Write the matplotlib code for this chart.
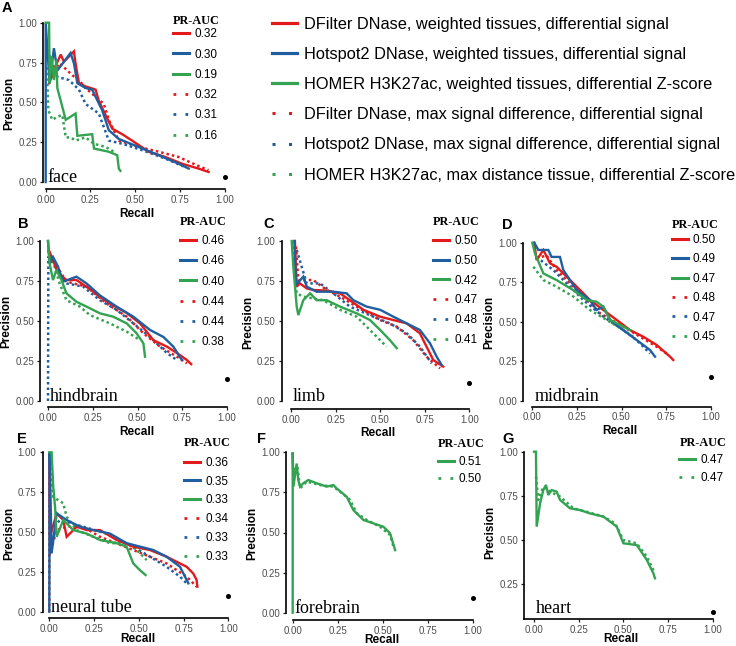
import matplotlib
matplotlib.use("Agg")
import matplotlib.pyplot as plt
from matplotlib.lines import Line2D

plt.rcParams['font.family'] = ['Liberation Sans', 'DejaVu Sans']

RED = '#E3191C'
BLUE = '#1F5FA0'
GREEN = '#33A352'

method_labels = [
    'DFilter DNase, weighted tissues, differential signal',
    'Hotspot2 DNase, weighted tissues, differential signal',
    'HOMER H3K27ac, weighted tissues, differential Z-score',
    'DFilter DNase, max signal difference, differential signal',
    'Hotspot2 DNase, max signal difference, differential signal',
    'HOMER H3K27ac, max distance tissue, differential Z-score',
]
tissues = ['face', 'hindbrain', 'limb', 'midbrain', 'neural tube', 'forebrain', 'heart']
panel_letters = ['A', 'B', 'C', 'D', 'E', 'F', 'G']

# PR-AUC values shown in each panel legend
face_auc = [0.32, 0.30, 0.19, 0.32, 0.31, 0.16]
hindbrain_auc = [0.46, 0.46, 0.40, 0.44, 0.44, 0.38]
limb_auc = [0.50, 0.50, 0.42, 0.47, 0.48, 0.41]
midbrain_auc = [0.50, 0.49, 0.47, 0.48, 0.47, 0.45]
neural_tube_auc = [0.36, 0.35, 0.33, 0.34, 0.33, 0.33]
forebrain_auc = [0.51, 0.50]
heart_auc = [0.47, 0.47]

# fraction of positives (black dot at recall = 1)
baselines = [0.031, 0.135, 0.112, 0.15, 0.098, 0.094, 0.095]

# (recall, precision) points
face_dfilter_wt = [(0.019, 0.62), (0.056, 0.73), (0.084, 0.80), (0.102, 0.755), (0.158, 0.82),
                   (0.167, 0.745), (0.186, 0.62), (0.223, 0.60), (0.279, 0.58), (0.297, 0.51),
                   (0.335, 0.42), (0.372, 0.335), (0.428, 0.30), (0.483, 0.26), (0.576, 0.19),
                   (0.669, 0.157), (0.762, 0.115), (0.855, 0.084), (0.911, 0.063)]
face_hotspot_wt = [(0.0, 0.0), (0.0, 1.0), (0.022, 0.62), (0.046, 0.84), (0.065, 0.70), (0.139, 0.81),
                   (0.158, 0.745), (0.177, 0.62), (0.223, 0.59), (0.26, 0.58), (0.279, 0.535),
                   (0.316, 0.45), (0.353, 0.325), (0.409, 0.27), (0.52, 0.22), (0.632, 0.168),
                   (0.743, 0.115), (0.80, 0.084)]
face_homer_wt = [(0.0, 1.0), (0.019, 1.0), (0.022, 0.62), (0.032, 0.79), (0.046, 0.64), (0.06, 0.765),
                 (0.065, 0.59), (0.084, 0.51), (0.112, 0.39), (0.167, 0.43), (0.177, 0.29),
                 (0.26, 0.30), (0.27, 0.21), (0.353, 0.19), (0.40, 0.168), (0.409, 0.084), (0.418, 0.07)]
face_dfilter_max = [(0.009, 0.83), (0.037, 0.66), (0.074, 0.745), (0.112, 0.71), (0.149, 0.67),
                    (0.186, 0.64), (0.223, 0.59), (0.279, 0.535), (0.325, 0.49), (0.353, 0.39),
                    (0.409, 0.26), (0.52, 0.22), (0.632, 0.19), (0.743, 0.157), (0.855, 0.10), (0.91, 0.075)]
face_hotspot_max = [(0.009, 0.83), (0.065, 0.66), (0.13, 0.64), (0.186, 0.58), (0.223, 0.49),
                    (0.297, 0.43), (0.353, 0.26), (0.428, 0.24), (0.539, 0.20), (0.669, 0.147), (0.78, 0.094)]
face_homer_max = [(0.006, 0.72), (0.015, 0.45), (0.037, 0.39), (0.065, 0.41), (0.093, 0.42),
                  (0.112, 0.28), (0.139, 0.28), (0.167, 0.26), (0.223, 0.28), (0.27, 0.24),
                  (0.335, 0.22), (0.381, 0.19)]

hindbrain_dfilter_wt = [(0.006, 0.94), (0.028, 0.88), (0.056, 0.80), (0.103, 0.756), (0.159, 0.756),
                        (0.234, 0.70), (0.29, 0.65), (0.346, 0.61), (0.44, 0.55), (0.514, 0.485),
                        (0.589, 0.38), (0.664, 0.34), (0.72, 0.30), (0.776, 0.256), (0.80, 0.23)]
hindbrain_hotspot_wt = [(0.0, 1.0), (0.009, 0.86), (0.028, 0.90), (0.056, 0.84), (0.084, 0.746),
                        (0.159, 0.777), (0.215, 0.735), (0.29, 0.66), (0.383, 0.59), (0.477, 0.527),
                        (0.57, 0.444), (0.645, 0.40), (0.70, 0.34), (0.748, 0.256)]
hindbrain_homer_wt = [(0.0, 1.0), (0.009, 0.86), (0.028, 0.756), (0.047, 0.82), (0.075, 0.756),
                      (0.103, 0.673), (0.159, 0.62), (0.215, 0.59), (0.29, 0.548), (0.364, 0.527),
                      (0.44, 0.485), (0.495, 0.423), (0.533, 0.36), (0.542, 0.277)]
hindbrain_dfilter_max = [(0.009, 0.90), (0.028, 0.88), (0.103, 0.746), (0.215, 0.715), (0.327, 0.61),
                         (0.44, 0.527), (0.533, 0.423), (0.626, 0.34), (0.72, 0.277), (0.776, 0.235)]
hindbrain_hotspot_max = [(0.0, 0.0), (0.002, 0.90), (0.028, 0.86), (0.103, 0.735), (0.196, 0.715),
                         (0.29, 0.63), (0.383, 0.57), (0.477, 0.485), (0.57, 0.40), (0.664, 0.30), (0.72, 0.256)]
hindbrain_homer_max = [(0.0, 0.94), (0.037, 0.84), (0.065, 0.735), (0.103, 0.63), (0.178, 0.59),
                       (0.234, 0.537), (0.346, 0.485), (0.44, 0.433), (0.514, 0.38)]

limb_dfilter_wt = [(0.022, 1.0), (0.032, 0.715), (0.05, 0.735), (0.088, 0.704), (0.125, 0.694),
                   (0.2, 0.69), (0.275, 0.673), (0.33, 0.63), (0.406, 0.57), (0.5, 0.527),
                   (0.574, 0.506), (0.649, 0.485), (0.723, 0.423), (0.76, 0.34), (0.798, 0.256), (0.854, 0.215)]
limb_hotspot_wt = [(0.019, 1.0), (0.028, 0.725), (0.069, 0.777), (0.088, 0.715), (0.144, 0.683),
                   (0.237, 0.683), (0.312, 0.673), (0.35, 0.63), (0.424, 0.59), (0.5, 0.57),
                   (0.574, 0.527), (0.649, 0.485), (0.723, 0.444), (0.78, 0.36), (0.817, 0.277), (0.845, 0.225)]
limb_homer_wt = [(0.004, 1.0), (0.013, 0.84), (0.032, 0.59), (0.041, 0.537), (0.069, 0.63),
                 (0.107, 0.673), (0.144, 0.63), (0.2, 0.63), (0.275, 0.59), (0.368, 0.548),
                 (0.443, 0.506), (0.5, 0.444), (0.555, 0.38), (0.593, 0.33)]
limb_dfilter_max = [(0.028, 0.965), (0.041, 0.756), (0.125, 0.756), (0.2, 0.694), (0.275, 0.652),
                    (0.368, 0.59), (0.5, 0.506), (0.593, 0.465), (0.686, 0.38), (0.76, 0.277), (0.836, 0.204)]
limb_hotspot_max = [(0.032, 0.944), (0.088, 0.735), (0.163, 0.735), (0.237, 0.673), (0.33, 0.59),
                    (0.462, 0.527), (0.555, 0.485), (0.649, 0.423), (0.723, 0.34), (0.789, 0.235)]
limb_homer_max = [(0.007, 1.0), (0.017, 0.84), (0.032, 0.673), (0.069, 0.652), (0.181, 0.63),
                  (0.275, 0.57), (0.368, 0.527), (0.424, 0.465), (0.5, 0.38), (0.536, 0.34)]

midbrain_dfilter_wt = [(0.011, 1.0), (0.024, 0.89), (0.062, 0.954), (0.099, 0.87), (0.136, 0.848),
                       (0.174, 0.806), (0.249, 0.722), (0.323, 0.638), (0.398, 0.575), (0.473, 0.512),
                       (0.548, 0.448), (0.622, 0.406), (0.697, 0.354), (0.772, 0.28), (0.79, 0.259)]
midbrain_hotspot_wt = [(0.011, 1.0), (0.034, 0.954), (0.09, 0.954), (0.108, 0.91), (0.155, 0.91),
                       (0.174, 0.827), (0.249, 0.70), (0.323, 0.638), (0.36, 0.575), (0.398, 0.596),
                       (0.436, 0.512), (0.51, 0.448), (0.585, 0.385), (0.66, 0.322), (0.688, 0.28)]
midbrain_homer_wt = [(0.0, 1.0), (0.015, 0.933), (0.062, 0.806), (0.136, 0.764), (0.23, 0.70),
                     (0.305, 0.638), (0.36, 0.627), (0.398, 0.596), (0.436, 0.512), (0.51, 0.47), (0.548, 0.448)]
midbrain_dfilter_max = [(0.024, 0.90), (0.08, 0.92), (0.136, 0.827), (0.211, 0.743), (0.286, 0.66),
                        (0.38, 0.554), (0.51, 0.47), (0.604, 0.406), (0.697, 0.343), (0.753, 0.30)]
midbrain_hotspot_max = [(0.024, 0.91), (0.118, 0.827), (0.193, 0.743), (0.286, 0.638), (0.398, 0.533),
                        (0.51, 0.448), (0.585, 0.385), (0.66, 0.30)]
midbrain_homer_max = [(0.006, 0.848), (0.062, 0.764), (0.136, 0.722), (0.23, 0.66), (0.323, 0.575),
                      (0.417, 0.512), (0.51, 0.448), (0.566, 0.406)]

neural_tube_dfilter_wt = [(0.002, 0.95), (0.004, 0.47), (0.041, 0.617), (0.078, 0.575), (0.097, 0.47),
                          (0.153, 0.533), (0.209, 0.512), (0.283, 0.512), (0.376, 0.45), (0.469, 0.408),
                          (0.562, 0.387), (0.655, 0.345), (0.767, 0.282), (0.804, 0.24), (0.823, 0.199), (0.827, 0.157)]
neural_tube_hotspot_wt = [(0.0, 0.0), (0.002, 1.0), (0.013, 0.366), (0.041, 0.617), (0.097, 0.575),
                          (0.171, 0.533), (0.246, 0.512), (0.339, 0.49), (0.432, 0.43), (0.507, 0.408),
                          (0.581, 0.387), (0.655, 0.345), (0.73, 0.282), (0.777, 0.178)]
neural_tube_homer_wt = [(0.0, 1.0), (0.013, 1.0), (0.022, 0.785), (0.032, 0.66), (0.041, 0.47),
                        (0.078, 0.575), (0.134, 0.512), (0.209, 0.49), (0.283, 0.45), (0.376, 0.43),
                        (0.432, 0.408), (0.469, 0.303), (0.507, 0.26), (0.538, 0.23)]
neural_tube_dfilter_max = [(0.0, 0.0), (0.0, 1.0), (0.004, 0.366), (0.041, 0.512), (0.097, 0.533),
                           (0.19, 0.533), (0.283, 0.47), (0.469, 0.387), (0.655, 0.303), (0.767, 0.22), (0.823, 0.157)]
neural_tube_hotspot_max = [(0.004, 0.512), (0.06, 0.575), (0.19, 0.533), (0.32, 0.49), (0.469, 0.408),
                           (0.655, 0.282), (0.73, 0.22), (0.767, 0.178)]
neural_tube_homer_max = [(0.004, 0.973), (0.022, 0.72), (0.078, 0.68), (0.097, 0.596), (0.153, 0.512),
                         (0.246, 0.47), (0.339, 0.43), (0.432, 0.43), (0.488, 0.387), (0.544, 0.324)]

forebrain_homer_wt = [(0.0, 0.0), (0.0, 1.0), (0.004, 0.786), (0.022, 0.93), (0.031, 0.827),
                      (0.041, 0.786), (0.059, 0.807), (0.087, 0.827), (0.133, 0.807), (0.189, 0.786),
                      (0.226, 0.796), (0.244, 0.775), (0.30, 0.723), (0.337, 0.64), (0.393, 0.578),
                      (0.448, 0.557), (0.504, 0.536), (0.541, 0.495), (0.569, 0.39)]
forebrain_homer_max = [(0.004, 0.89), (0.026, 0.91), (0.041, 0.775), (0.078, 0.817), (0.152, 0.796),
                       (0.226, 0.786), (0.263, 0.755), (0.319, 0.703), (0.356, 0.62), (0.411, 0.578),
                       (0.485, 0.536), (0.541, 0.484), (0.563, 0.40)]

heart_homer_wt = [(0.0, 1.0), (0.011, 1.0), (0.015, 0.576), (0.034, 0.708), (0.052, 0.783),
                  (0.067, 0.812), (0.08, 0.755), (0.099, 0.783), (0.127, 0.774), (0.146, 0.727),
                  (0.201, 0.68), (0.257, 0.67), (0.313, 0.651), (0.388, 0.633), (0.463, 0.576),
                  (0.50, 0.482), (0.575, 0.472), (0.631, 0.388), (0.668, 0.312), (0.677, 0.284)]
heart_homer_max = [(0.011, 0.859), (0.024, 0.727), (0.052, 0.802), (0.09, 0.774), (0.146, 0.746),
                   (0.22, 0.68), (0.295, 0.66), (0.388, 0.633), (0.453, 0.595), (0.50, 0.50),
                   (0.575, 0.482), (0.631, 0.407), (0.672, 0.322)]

six = [(RED, '-'), (BLUE, '-'), (GREEN, '-'), (RED, ':'), (BLUE, ':'), (GREEN, ':')]
two = [(GREEN, '-'), (GREEN, ':')]

panels = [
    ([face_dfilter_wt, face_hotspot_wt, face_homer_wt, face_dfilter_max, face_hotspot_max, face_homer_max], face_auc, six),
    ([hindbrain_dfilter_wt, hindbrain_hotspot_wt, hindbrain_homer_wt, hindbrain_dfilter_max,
      hindbrain_hotspot_max, hindbrain_homer_max], hindbrain_auc, six),
    ([limb_dfilter_wt, limb_hotspot_wt, limb_homer_wt, limb_dfilter_max, limb_hotspot_max, limb_homer_max], limb_auc, six),
    ([midbrain_dfilter_wt, midbrain_hotspot_wt, midbrain_homer_wt, midbrain_dfilter_max,
      midbrain_hotspot_max, midbrain_homer_max], midbrain_auc, six),
    ([neural_tube_dfilter_wt, neural_tube_hotspot_wt, neural_tube_homer_wt, neural_tube_dfilter_max,
      neural_tube_hotspot_max, neural_tube_homer_max], neural_tube_auc, six),
    ([forebrain_homer_wt, forebrain_homer_max], forebrain_auc, two),
    ([heart_homer_wt, heart_homer_max], heart_auc, two),
]

# layout in pixels: x of recall 0 and 1, y of precision 0 and 1, left expansion, y lower limit
frames = [
    (45.7, 224.5, 182.0, 22.7, 0.013, -0.045),
    (48.0, 227.0, 401.0, 241.0, 0.042, -0.04),
    (291.0, 469.3, 401.0, 241.0, 0.052, -0.05),
    (532.3, 710.7, 401.0, 242.7, 0.05, -0.036),
    (49.3, 228.3, 611.7, 452.3, 0.037, -0.042),
    (292.7, 472.7, 612.7, 452.3, 0.035, -0.046),
    (534.0, 712.7, 628.5, 451.7, 0.054, 0.052),
]
letter_pos = [(2, 1), (18, 217), (263, 217), (502, 218), (17, 432), (257, 432), (502, 432)]
# legend: handle x, title centre y, first row centre y, row pitch (pixels)
legend_pos = [(173, 20.9, 33.3, 20.4), (180, 221.3, 240, 20.4), (433, 221.5, 240, 19.9),
              (671.7, 225, 239, 19.5), (184, 442.3, 461.7, 19.0), (437.7, 443.5, 460.7, 17.6),
              (679.3, 442.5, 459.3, 18.0)]
label_y = [0.0, 0.0, 0.0, 0.0, 0.0, 0.0, 0.085]

W, H = 736, 646
PT = 100 / 72.0
fig = plt.figure(figsize=(7.36, 6.46), dpi=100)

ticks = [0, 0.25, 0.5, 0.75, 1.0]
tick_labels = ['0.00', '0.25', '0.50', '0.75', '1.00']
LEG_FS = 8.5
ROW_H = 12.1  # text row height of legend entries at LEG_FS, pixels

for i, (curves, aucs, styles) in enumerate(panels):
    x0, x1, y0, y1, xlo, ylo = frames[i]
    ux = x1 - x0
    uy = y0 - y1
    xhi, yhi = 1.03, 1.03
    left = x0 - xlo * ux
    right = x0 + xhi * ux
    bottom = y0 - ylo * uy
    top = y0 - yhi * uy
    ax = fig.add_axes([left / W, 1 - bottom / H, (right - left) / W, (bottom - top) / H])
    ax.set_xlim(-xlo, xhi)
    ax.set_ylim(ylo, yhi)
    ax.patch.set_alpha(0)

    for pts, (c, ls) in zip(curves, styles):
        r = [p[0] for p in pts]
        pr = [p[1] for p in pts]
        if ls == '-':
            ax.plot(r, pr, color=c, lw=1.7, solid_joinstyle='miter', zorder=3)
        else:
            ax.plot(r, pr, color=c, lw=1.8, ls=(0, (1, 1.2)), zorder=2)
    ax.plot([1.0], [baselines[i]], 'o', color='black', ms=2.6, zorder=4, clip_on=False)

    for s in ['top', 'right']:
        ax.spines[s].set_visible(False)
    for s in ['left', 'bottom']:
        ax.spines[s].set_linewidth(1.2)
    if i == 6:
        ax.set_yticks(ticks[1:])
        ax.set_yticklabels(tick_labels[1:])
        ax.spines['left'].set_bounds(ylo, 1.0)
        ax.spines['bottom'].set_bounds(-xlo, 1.0)
    else:
        ax.set_yticks(ticks)
        ax.set_yticklabels(tick_labels)
        ax.spines['left'].set_bounds(0, 1.0)
        ax.spines['bottom'].set_bounds(0, 1.0)
    ax.set_xticks(ticks)
    ax.set_xticklabels(tick_labels)
    ax.tick_params(axis='both', length=2.5, width=0.9, color='#222222', labelcolor='#4D4D4D', labelsize=7)
    ax.tick_params(axis='x', pad=1.5)
    ax.tick_params(axis='y', pad=2)
    ax.set_xlabel('Recall', fontsize=8.5, fontweight='bold', labelpad=-1 if i >= 4 else 2)
    ax.set_ylabel('Precision', fontsize=8.5, fontweight='bold', labelpad=2)

    ax.text(0.012, label_y[i], tissues[i], family=['Liberation Serif', 'DejaVu Serif'],
            fontsize=13, va='baseline', ha='left', zorder=5)

    lx, ly = letter_pos[i]
    fig.text(lx / W, 1 - ly / H, panel_letters[i], fontsize=10.5, fontweight='bold', va='top', ha='left')

    handles = []
    for c, ls in styles:
        if ls == '-':
            handles.append(Line2D([], [], color=c, lw=2.2))
        else:
            handles.append(Line2D([], [], color=c, lw=2.0, ls=(0, (1, 3.3))))
    gx, ty, ry, pitch = legend_pos[i]
    fig.text(gx / W, 1 - (ty + 0.5) / H, 'PR-AUC', family=['Liberation Serif', 'DejaVu Serif'],
             fontweight='bold', fontsize=8.7, va='center', ha='left')
    spacing = (pitch - ROW_H) / (LEG_FS * PT)
    ax.legend(handles, ['%.2f' % a for a in aucs], loc='upper left',
              bbox_to_anchor=(gx / W, 1 - (ry + 1 - ROW_H / 2) / H), bbox_transform=fig.transFigure,
              frameon=False, borderpad=0, borderaxespad=0, handlelength=1.35,
              handletextpad=0.45, labelspacing=spacing, fontsize=LEG_FS)

# overall method legend
main_handles = []
for c, ls in six:
    if ls == '-':
        main_handles.append(Line2D([], [], color=c, lw=2.3))
    else:
        main_handles.append(Line2D([], [], color=c, lw=2.2, ls=(0, (1, 4.4))))
fig.legend(main_handles, method_labels, loc='upper left', bbox_to_anchor=(272 / W, 1 - 16.5 / H),
           frameon=False, borderpad=0, borderaxespad=0, handlelength=1.55, handletextpad=0.42,
           labelspacing=0.93, fontsize=11.8)

fig.savefig('out.png', dpi=100)
